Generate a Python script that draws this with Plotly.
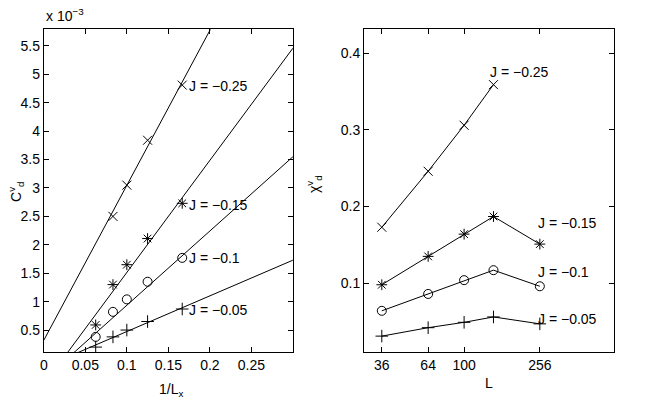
import plotly.graph_objects as go
from plotly.subplots import make_subplots
import math

# left panel: C_d^v (units of 1e-3) against 1/L_x
inv_Lx = [0.0625, 0.0833, 0.1, 0.125, 0.1667]
cd_025 = [None, 2.50, 3.05, 3.84, 4.81]
cd_015 = [0.59, 1.30, 1.65, 2.11, 2.73]
cd_010 = [0.38, 0.82, 1.04, 1.35, 1.77]
cd_005 = [0.20, 0.38, 0.50, 0.65, 0.87]

fit_x = [0.0, 0.3]
fit_025 = [0.32, 8.50]
fit_015 = [-0.46, 5.46]
fit_010 = [-0.37, 3.55]
fit_005 = [-0.154, 1.73]

# right panel: chi_d^v against L
L = [36, 64, 100, 144, 256]
chi_025 = [0.173, 0.246, 0.306, 0.359, None]
chi_015 = [0.098, 0.135, 0.164, 0.187, 0.151]
chi_010 = [0.064, 0.086, 0.104, 0.117, 0.096]
chi_005 = [0.031, 0.042, 0.049, 0.056, 0.047]

labels = ["J = \u22120.25", "J = \u22120.15", "J = \u22120.1", "J = \u22120.05"]
symbols = ["x-thin-open", "asterisk-open", "circle-open", "cross-thin-open"]

FONT = "Liberation Sans, Arial, Helvetica, sans-serif"

fig = make_subplots(rows=1, cols=2)

left_pts = [cd_025, cd_015, cd_010, cd_005]
left_fit = [fit_025, fit_015, fit_010, fit_005]
for ys, fy, sym in zip(left_pts, left_fit, symbols):
    fig.add_trace(go.Scatter(x=fit_x, y=fy, mode="lines",
                             line=dict(color="black", width=1)), row=1, col=1)
    fig.add_trace(go.Scatter(x=inv_Lx, y=ys, mode="markers",
                             marker=dict(symbol=sym, size=9, color="black",
                                         line=dict(color="black", width=1))),
                  row=1, col=1)

right_pts = [chi_025, chi_015, chi_010, chi_005]
for ys, sym in zip(right_pts, symbols):
    fig.add_trace(go.Scatter(x=L, y=ys, mode="lines+markers",
                             line=dict(color="black", width=1),
                             marker=dict(symbol=sym, size=9, color="black",
                                         line=dict(color="black", width=1))),
                  row=1, col=2)

axis_style = dict(showline=True, linecolor="black", linewidth=1, mirror="allticks",
                  ticks="inside", ticklen=5, tickcolor="black", showgrid=False,
                  zeroline=False, tickfont=dict(family=FONT, size=14, color="black"))

fig.update_xaxes(axis_style)
fig.update_yaxes(axis_style)

fig.update_xaxes(range=[0, 0.3], tickvals=[0, 0.05, 0.1, 0.15, 0.2, 0.25],
                 ticktext=["0", "0.05", "0.1", "0.15", "0.2", "0.25"],
                 domain=[0.0612, 0.4445], row=1, col=1)
fig.update_yaxes(range=[0.11, 5.79], tickvals=[0.5, 1, 1.5, 2, 2.5, 3, 3.5, 4, 4.5, 5, 5.5],
                 ticktext=["0.5", "1", "1.5", "2", "2.5", "3", "3.5", "4", "4.5", "5", "5.5"],
                 domain=[0.126, 0.927], row=1, col=1)
fig.update_xaxes(type="log", range=[math.log10(28.9), math.log10(643)],
                 tickvals=[36, 64, 100, 256], ticktext=["36", "64", "100", "256"],
                 domain=[0.554, 0.9385], row=1, col=2)
fig.update_yaxes(range=[0.01, 0.431], tickvals=[0.1, 0.2, 0.3, 0.4],
                 ticktext=["0.1", "0.2", "0.3", "0.4"],
                 domain=[0.126, 0.927], row=1, col=2)

lab_font = dict(family=FONT, size=14, color="black")
ann = []
# curve labels, left panel
for yv, txt in zip([4.8, 2.7, 1.77, 0.86], labels):
    ann.append(dict(x=0.1728, y=yv, xref="x", yref="y", text=txt, showarrow=False,
                    xanchor="left", yanchor="middle", font=lab_font))
# curve labels, right panel (x in log10 units)
for xv, yv, txt in zip([2.128, 2.389, 2.389, 2.389], [0.375, 0.179, 0.114, 0.0535], labels):
    ann.append(dict(x=xv, y=yv, xref="x2", yref="y2", text=txt, showarrow=False,
                    xanchor="left", yanchor="middle", font=lab_font))
# axis titles and exponent
ann += [
    dict(x=0.0612, y=0.935, xref="paper", yref="paper", text="x 10<sup>\u22123</sup>",
         showarrow=False, xanchor="left", yanchor="bottom", font=lab_font),
    dict(x=12 / 654, y=1 - 192 / 403, xref="paper", yref="paper",
         text="C<sup>v</sup><sub>d</sub>", textangle=-90, showarrow=False,
         xanchor="center", yanchor="middle", font=lab_font),
    dict(x=312 / 654, y=1 - 184 / 403, xref="paper", yref="paper",
         text="\u03c7<sup>v</sup><sub>d</sub>", textangle=-90, showarrow=False,
         xanchor="center", yanchor="middle", font=lab_font),
    dict(x=168 / 654, y=1 - 390 / 403, xref="paper", yref="paper",
         text="1/L<sub>x</sub>", showarrow=False,
         xanchor="center", yanchor="middle", font=lab_font),
    dict(x=488 / 654, y=1 - 383 / 403, xref="paper", yref="paper",
         text="L", showarrow=False,
         xanchor="center", yanchor="middle", font=lab_font),
]

fig.update_layout(width=654, height=403, margin=dict(l=0, r=0, t=0, b=0),
                  paper_bgcolor="white", plot_bgcolor="white", showlegend=False,
                  annotations=ann, font=dict(family=FONT, color="black"))

# drop the page's default body margin so the figure sits at the window corner
fig.write_html("out.html", config={"displayModeBar": False},
               post_script="document.body.style.margin='0';")
